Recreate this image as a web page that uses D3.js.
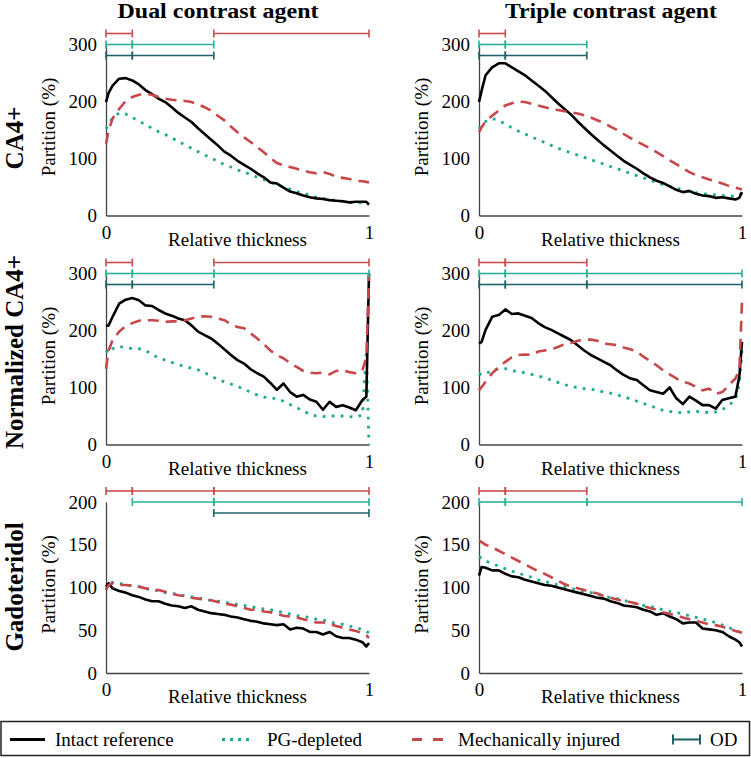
<!DOCTYPE html>
<html><head><meta charset="utf-8">
<script src="https://cdn.jsdelivr.net/npm/d3@7"></script>
<style>
body{margin:0;background:#fff}
svg{display:block}
text{font-family:"Liberation Serif","Times New Roman",Times,serif;fill:#000}
</style>
</head><body>
<svg id="chart" width="751" height="758"></svg>
<script>
// ---------- DATA ----------
const thickness = [0,0.01,0.025,0.05,0.075,0.1,0.125,0.15,0.175,0.2,0.225,0.25,0.275,0.3,0.325,0.35,0.375,0.4,0.425,0.45,0.475,0.5,0.525,0.55,0.575,0.6,0.625,0.65,0.675,0.7,0.725,0.75,0.775,0.8,0.825,0.85,0.875,0.9,0.925,0.95,0.975,0.99,1];

const columnTitles = ["Dual contrast agent", "Triple contrast agent"];
const rowTitles = ["CA4+", "Normalized CA4+", "Gadoteridol"];
const rowYMax = [300, 300, 200];
const rowYTicks = [[0,100,200,300],[0,100,200,300],[0,50,100,150,200]];
const xTicks = [0, 1];
const legendLabels = ["Intact reference", "PG-depleted", "Mechanically injured", "OD"];

// Dual, CA4+
const dualCA4_intact = [199,215,228,240,241,237,230,220,213,205,199,190,180,172,164,153,143,133,123,112,105,96,89,82,74,67,58,56,49,42,39,35,32,30,29,27,26,25,23,24,24,24,19];
const dualCA4_pg     = [152,161,171,180,178,172,165,160,153,147,142,136,130,124,118,112,106,101,95,89,85,80,76,72,67,63,58,54,50,46,42,39,36,32,30,28,26,25,23,22,22,21,20];
const dualCA4_mech   = [126,149,170,187,201,208,212,213,212,208,205,203,202,201,199,195,190,184,175,167,156,146,137,129,120,111,101,92,88,85,82,79,76,74,76,73,68,66,64,61,60,59,58];
// Triple, CA4+
const tripleCA4_intact = [199,219,246,260,267,267,260,253,246,237,228,219,208,197,187,177,165,154,143,133,123,114,105,96,89,82,74,67,61,57,51,45,41,43,38,35,34,31,32,30,28,31,41];
const tripleCA4_pg     = [152,160,165,170,167,160,154,148,143,138,133,128,123,118,114,110,106,102,98,94,90,86,82,78,74,70,66,62,58,54,51,48,45,42,40,38,37,36,35,34,34,35,41];
const tripleCA4_mech   = [146,155,165,175,184,193,197,200,199,196,193,190,187,185,183,181,179,176,172,167,162,156,150,143,136,130,124,118,111,104,97,90,83,76,71,67,63,60,56,52,49,47,46];
// Dual, Normalized CA4+
const dualNorm_intact = [208,209,224,247,254,257,253,244,243,236,230,226,221,218,209,198,192,186,177,167,157,148,142,132,125,119,108,96,107,92,84,87,79,75,61,75,66,69,65,60,78,84,300];
const dualNorm_pg     = [165,160,168,172,170,168,168,165,158,152,148,144,140,137,134,131,126,120,114,110,106,102,97,92,87,83,82,80,76,70,65,58,54,50,49,50,50,50,49,48,52,165,0];
const dualNorm_mech   = [133,165,183,198,208,213,217,218,218,217,215,216,216,218,221,224,225,224,221,218,211,206,204,195,186,176,165,157,151,143,136,129,126,125,126,123,129,130,127,125,130,154,300];
// Triple, Normalized CA4+
const tripleNorm_intact = [177,180,201,224,227,237,229,230,226,222,213,206,201,195,189,183,174,165,157,151,145,139,130,122,116,113,104,95,92,89,100,81,71,84,77,69,69,63,78,81,84,120,180];
const tripleNorm_pg     = [125,122,125,129,133,133,130,127,126,123,120,117,113,109,105,102,100,98,97,95,92,90,87,84,80,76,72,68,64,60,58,56,56,57,58,57,56,57,61,69,78,107,165];
const tripleNorm_mech   = [95,101,110,125,136,145,153,157,158,157,163,165,167,171,176,178,182,184,184,182,177,176,174,170,167,163,154,147,139,130,123,116,110,107,101,95,98,89,92,104,116,130,250];
// Dual, Gadoteridol
const dualGado_intact = [101,105,99,96,94,91,89,86,84,84,81,79,78,76,78,74,72,70,69,68,66,65,63,61,60,58,57,56,57,51,53,52,48,48,45,48,43,41,41,39,36,31,35];
const dualGado_pg     = [98,105,106,105,103,102,101,99,97,96,94,93,92,90,89,88,86,85,84,83,81,80,79,78,76,75,74,72,71,69,67,66,65,63,62,60,58,57,55,53,51,49,47];
const dualGado_mech   = [97,103,105,103,103,102,101,99,98,97,95,93,91,90,88,87,86,85,83,81,80,78,76,74,74,72,71,69,67,66,65,63,61,59,59,57,55,53,51,49,47,44,41];
// Triple, Gadoteridol
const tripleGado_intact = [114,124,123,120,120,116,113,112,109,107,105,103,102,100,98,96,94,92,90,88,87,84,82,79,78,77,74,72,68,70,66,63,58,59,59,52,51,50,48,43,39,36,31];
const tripleGado_pg     = [136,134,131,128,125,122,119,117,114,112,109,107,105,103,101,99,97,95,94,92,90,88,87,85,83,81,79,78,76,74,72,71,69,67,65,63,61,59,56,53,50,48,47];
const tripleGado_mech   = [155,153,150,147,143,139,135,131,127,123,119,116,112,108,104,101,99,97,95,93,90,88,86,84,83,81,78,76,74,71,69,67,65,63,61,59,57,56,54,52,49,48,47];

// Significant-difference segments (relative thickness), per panel: mech / pg / od
const sigDualCA4    = {mech:[[0,0.1],[0.41,1]], pg:[[0,0.1],[0.1,0.41]], od:[[0,0.1],[0.1,0.41]]};
const sigTripleCA4  = {mech:[[0,0.1]], pg:[[0,0.1],[0.1,0.41]], od:[[0,0.1],[0.1,0.41]]};
const sigDualNorm   = {mech:[[0,0.1],[0.41,1]], pg:[[0,0.1],[0.1,0.41],[0.41,1]], od:[[0,0.1],[0.1,0.41]]};
const sigTripleNorm = {mech:[[0,0.1],[0.1,0.41]], pg:[[0,0.1],[0.1,0.41],[0.41,1]], od:[[0,0.1],[0.1,0.41],[0.41,1]]};
const sigDualGado   = {mech:[[0,0.1],[0.1,0.41],[0.41,1]], pg:[[0.1,0.41],[0.41,1]], od:[[0.41,1]]};
const sigTripleGado = {mech:[[0,0.1],[0.1,0.41]], pg:[[0,0.1],[0.1,0.41],[0.41,1]], od:[]};

const panels = [
  [{intact:dualCA4_intact, pg:dualCA4_pg, mech:dualCA4_mech, sig:sigDualCA4},
   {intact:tripleCA4_intact, pg:tripleCA4_pg, mech:tripleCA4_mech, sig:sigTripleCA4}],
  [{intact:dualNorm_intact, pg:dualNorm_pg, mech:dualNorm_mech, sig:sigDualNorm},
   {intact:tripleNorm_intact, pg:tripleNorm_pg, mech:tripleNorm_mech, sig:sigTripleNorm}],
  [{intact:dualGado_intact, pg:dualGado_pg, mech:dualGado_mech, sig:sigDualGado},
   {intact:tripleGado_intact, pg:tripleGado_pg, mech:tripleGado_mech, sig:sigTripleGado}]
];

// ---------- STYLE / LAYOUT ----------
const colX0 = [106, 479], plotW = 263;
const rowY0 = [215.5, 444.5, 673], plotH = 171;
const col = {intact:"#000000", pg:"#1dab8f", mech:"#c8474a", od:"#1e6167"};
const barCol = {mech:"#c94b4b", pg:"#27b298", od:"#1f6268"};
const barOffset = {mech:-11, pg:0, od:11};
const rowTitleY = [138, 352, 587];
const colTitleX = [218, 611];
const colTitleW = [201, 212];

const svg = d3.select("#chart");

// column titles
columnTitles.forEach((t,c)=>{
  svg.append("text").attr("x", colTitleX[c]).attr("y", 18)
    .attr("text-anchor","middle").attr("font-size","20px").attr("font-weight","bold")
    .attr("textLength", colTitleW[c]).attr("lengthAdjust","spacingAndGlyphs").text(t);
});
// row titles
rowTitles.forEach((t,r)=>{
  svg.append("text").attr("transform",`translate(23,${rowTitleY[r]}) rotate(-90)`)
    .attr("text-anchor","middle").attr("font-size","25px").attr("font-weight","bold").text(t);
});

for (let r=0;r<3;r++){
  for (let c=0;c<2;c++){
    const p = panels[r][c];
    const x = d3.scaleLinear().domain([0,1]).range([colX0[c], colX0[c]+plotW]);
    const y = d3.scaleLinear().domain([0,rowYMax[r]]).range([rowY0[r], rowY0[r]-plotH]);
    const g = svg.append("g");

    // axes
    const ya = g.append("g").attr("transform",`translate(${colX0[c]},0)`)
      .call(d3.axisLeft(y).tickValues(rowYTicks[r]).tickSize(0).tickSizeOuter(0).tickPadding(9).tickFormat(d3.format("d")));
    const xa = g.append("g").attr("transform",`translate(0,${rowY0[r]})`)
      .call(d3.axisBottom(x).tickValues(xTicks).tickSize(0).tickSizeOuter(0).tickPadding(10).tickFormat(d3.format("d")));
    [ya,xa].forEach(a=>{
      a.select(".domain").attr("stroke","#444").attr("stroke-width",1.3);
      a.selectAll("text").attr("font-size","19px").attr("fill","#000")
        .attr("font-family",'"Liberation Serif","Times New Roman",serif');
    });

    // axis labels
    g.append("text").attr("x", colX0[c]+plotW/2).attr("y", rowY0[r]+30)
      .attr("text-anchor","middle").attr("font-size","19px").text("Relative thickness");
    g.append("text").attr("transform",`translate(${colX0[c]-51},${rowY0[r]-plotH/2-3}) rotate(-90)`)
      .attr("text-anchor","middle").attr("font-size","19px").text("Partition (%)");

    // curves
    const line = d3.line().x((d,i)=>x(thickness[i])).y(d=>y(d));
    g.append("path").datum(p.pg).attr("d",line).attr("fill","none")
      .attr("stroke",col.pg).attr("stroke-width",2.8).attr("stroke-dasharray","2.8,6.2");
    g.append("path").datum(p.intact).attr("d",line).attr("fill","none")
      .attr("stroke",col.intact).attr("stroke-width",2.6).attr("stroke-linejoin","round");
    g.append("path").datum(p.mech).attr("d",line).attr("fill","none")
      .attr("stroke",col.mech).attr("stroke-width",2.6).attr("stroke-dasharray","11,7");

    // significance bars
    ["mech","pg","od"].forEach(k=>{
      const yy = y(rowYMax[r]) + barOffset[k];
      p.sig[k].forEach(seg=>{
        g.append("line").attr("x1",x(seg[0])).attr("x2",x(seg[1])).attr("y1",yy).attr("y2",yy)
          .attr("stroke",barCol[k]).attr("stroke-width",1.6);
        seg.forEach(v=>{
          g.append("line").attr("x1",x(v)).attr("x2",x(v)).attr("y1",yy-4).attr("y2",yy+4)
            .attr("stroke",barCol[k]).attr("stroke-width",1.6);
        });
      });
    });
  }
}

// ---------- LEGEND ----------
const lg = svg.append("g");
lg.append("rect").attr("x",1).attr("y",721.5).attr("width",748.5).attr("height",34)
  .attr("fill","#fff").attr("stroke","#222").attr("stroke-width",1.5);
const ly = 739.5;
const legendItems = [
  {x1:10, x2:45, tx:55, key:"intact"},
  {x1:222, x2:253, tx:267, key:"pg"},
  {x1:412, x2:443, tx:458, key:"mech"},
  {x1:673, x2:700, tx:710, key:"od"}
];
legendItems.forEach((it,i)=>{
  const ln = lg.append("line").attr("x1",it.x1).attr("x2",it.x2).attr("y1",ly).attr("y2",ly)
    .attr("stroke",col[it.key]);
  if (it.key==="intact") ln.attr("stroke-width",3);
  if (it.key==="pg") ln.attr("stroke-width",3).attr("stroke-dasharray","3,5");
  if (it.key==="mech") ln.attr("stroke-width",3).attr("stroke-dasharray","10,11");
  if (it.key==="od") {
    ln.attr("stroke-width",2);
    [it.x1,it.x2].forEach(v=>lg.append("line").attr("x1",v).attr("x2",v).attr("y1",ly-5).attr("y2",ly+5)
      .attr("stroke",col.od).attr("stroke-width",2));
  }
  lg.append("text").attr("x",it.tx).attr("y",ly+6).attr("font-size","19px").text(legendLabels[i]);
});
</script>
</body></html>
